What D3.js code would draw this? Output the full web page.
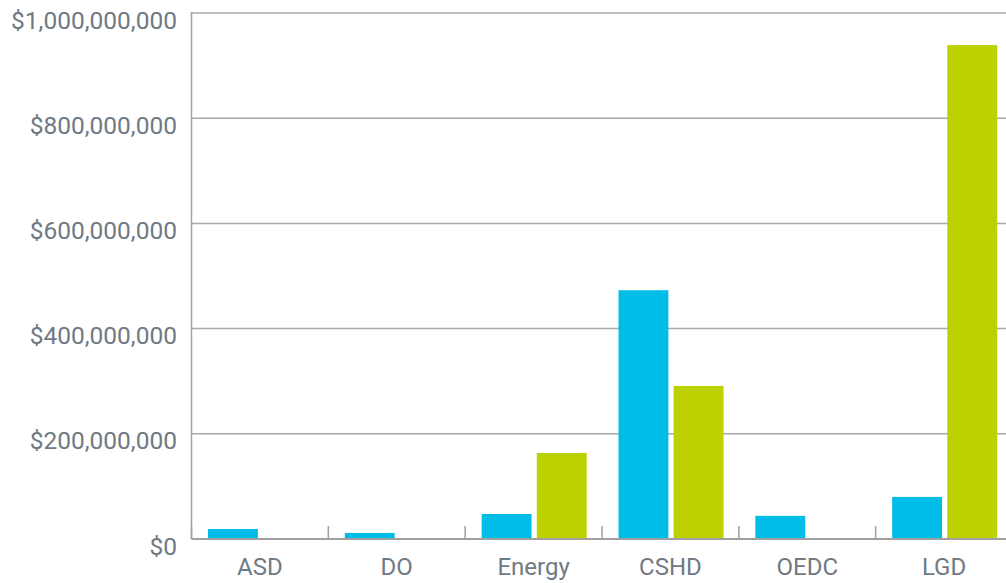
<!DOCTYPE html>
<html>
<head>
<meta charset="utf-8">
<script src="https://cdn.jsdelivr.net/npm/d3@7"></script>
<style>
  body { margin: 0; background: #fff; overflow: hidden; }
  svg { display: block; font-family: Roboto, sans-serif; }
</style>
</head>
<body>
<script>
const categories = ['ASD', 'DO', 'Energy', 'CSHD', 'OEDC', 'LGD'];
const seriesA = [19000000, 11500000, 47500000, 473000000, 44000000, 80000000];
const seriesB = [0, 0, 163500000, 291000000, 0, 939000000];
const yTicks = [0, 200000000, 400000000, 600000000, 800000000, 1000000000];

const w = 1006;
const h = 583;
const plotLeft = 191.5, plotTop = 13, plotBottom = 539, plotRight = 1012.5;

const svg = d3.select('body').append('svg')
  .attr('width', w)
  .attr('height', h);

const x = d3.scaleBand()
  .domain(categories)
  .range([plotLeft, plotRight]);

const inner = d3.scaleBand()
  .domain(['a', 'b'])
  .range([16.5, 16.5 + 105])
  .paddingInner(5 / 52.5);

const y = d3.scaleLinear()
  .domain([0, 1000000000])
  .range([plotBottom, plotTop]);

const fmt = d => '$' + d3.format(',')(d);

// gridlines
svg.append('g')
  .selectAll('line')
  .data(yTicks.slice(1))
  .join('line')
  .attr('x1', plotLeft)
  .attr('x2', w)
  .attr('y1', d => y(d))
  .attr('y2', d => y(d))
  .attr('stroke', '#a8a8a8')
  .attr('stroke-width', 1.5);

// y labels
svg.append('g')
  .selectAll('text')
  .data(yTicks)
  .join('text')
  .attr('x', 177)
  .attr('y', d => y(d) + 7)
  .attr('dy', '0.35em')
  .attr('text-anchor', 'end')
  .attr('font-size', 24.5)
  .attr('fill', '#6f7a83')
  .text(fmt);

// bars
const rows = categories.map((c, i) => ({ c, a: seriesA[i], b: seriesB[i] }));
const groups = svg.append('g')
  .selectAll('g')
  .data(rows)
  .join('g')
  .attr('transform', d => `translate(${x(d.c)},0)`);

groups.append('rect')
  .attr('x', inner('a'))
  .attr('width', inner.bandwidth())
  .attr('y', d => y(d.a))
  .attr('height', d => y(0) - y(d.a))
  .attr('fill', '#00bde8');

groups.append('rect')
  .attr('x', inner('b'))
  .attr('width', inner.bandwidth())
  .attr('y', d => y(d.b))
  .attr('height', d => y(0) - y(d.b))
  .attr('fill', '#bdd000');

// axes lines
svg.append('line')
  .attr('x1', plotLeft).attr('x2', plotLeft)
  .attr('y1', plotTop - 1).attr('y2', plotBottom)
  .attr('stroke', '#a0a0a0').attr('stroke-width', 1.5);

svg.append('line')
  .attr('x1', plotLeft).attr('x2', w)
  .attr('y1', plotBottom).attr('y2', plotBottom)
  .attr('stroke', '#a0a0a0').attr('stroke-width', 2);

// category ticks
svg.append('g')
  .selectAll('line')
  .data(categories)
  .join('line')
  .attr('x1', d => x(d))
  .attr('x2', d => x(d))
  .attr('y1', plotBottom - 13)
  .attr('y2', plotBottom)
  .attr('stroke', '#a0a0a0')
  .attr('stroke-width', 1.5);

// x labels
svg.append('g')
  .selectAll('text')
  .data(categories)
  .join('text')
  .attr('x', d => x(d) + x.bandwidth() / 2)
  .attr('y', 567)
  .attr('dy', '0.35em')
  .attr('text-anchor', 'middle')
  .attr('font-size', 24)
  .attr('fill', '#6f7a83')
  .text(d => d);
</script>
</body>
</html>
